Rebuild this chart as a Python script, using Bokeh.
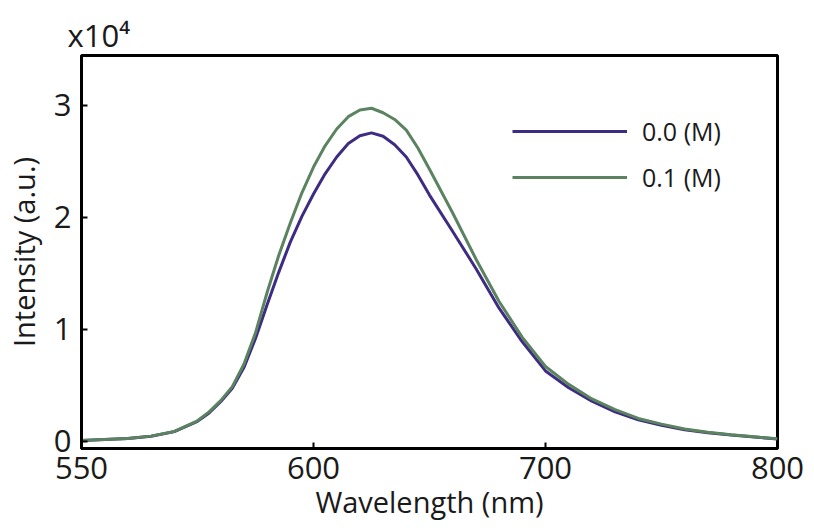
from bokeh.plotting import figure
from bokeh.models import FixedTicker, Legend, LegendItem, Range1d
from bokeh.embed import file_html
from bokeh.resources import INLINE

# ---- data ----
wavelength = [500, 510, 520, 530, 540, 550, 555, 560, 565, 570, 575, 580, 585, 590, 595,
              600, 605, 610, 615, 620, 625, 630, 635, 640, 645, 650, 660, 670, 680, 690,
              700, 710, 720, 730, 740, 750, 760, 770, 780, 790, 800]
intensity_00 = [100, 170, 270, 470, 880, 1800, 2550, 3550, 4750, 6600, 9200, 12200, 15100, 17800, 20100,
                22100, 23900, 25400, 26600, 27300, 27550, 27250, 26500, 25400, 23800, 22000, 18750, 15450, 11900, 8900,
                6300, 4800, 3600, 2650, 1930, 1450, 1050, 780, 580, 400, 220]
intensity_01 = [100, 170, 270, 480, 900, 1850, 2650, 3650, 4900, 6900, 9700, 13300, 16600, 19500, 22200,
                24500, 26400, 27900, 29000, 29600, 29750, 29350, 28750, 27800, 26200, 24300, 20400, 16300, 12500, 9300,
                6700, 5100, 3800, 2850, 2060, 1550, 1120, 830, 610, 420, 240]
series_labels = ["0.0 (M)", "0.1 (M)"]
x_ticks = [500, 600, 700, 800]
x_tick_labels = ["550", "600", "700", "800"]
y_ticks = [0, 10000, 20000, 30000]
y_tick_labels = ["0", "1", "2", "3"]

FONT = "Open Sans"
TXT = "#1a1a1a"
PURPLE = "#3d2c82"
GREEN = "#5b8360"

p = figure(width=814, height=531, output_backend="svg", toolbar_location=None,
           x_range=Range1d(500, 800), y_range=Range1d(-625, 34460),
           frame_width=696, frame_height=393,
           min_border_left=77, min_border_right=41, min_border_top=55, min_border_bottom=83)

p.background_fill_color = "white"
p.border_fill_color = "white"
p.xgrid.visible = False
p.ygrid.visible = False
p.outline_line_color = "black"
p.outline_line_width = 3
p.outline_line_alpha = 1.0

r0 = p.line(wavelength, intensity_00, line_color=PURPLE, line_width=3)
r1 = p.line(wavelength, intensity_01, line_color=GREEN, line_width=3)

# title used as the axis multiplier
p.title.text = "x10\u2074"
p.title.align = "left"
p.title.offset = -14
p.title.text_font = FONT
p.title.text_font_size = "31px"
p.title.text_font_style = "normal"
p.title.text_color = TXT
p.title.standoff = 0

for ax in (p.xaxis[0], p.yaxis[0]):
    ax.axis_line_width = 3
    ax.axis_line_color = "black"
    ax.major_tick_in = 6
    ax.major_tick_out = 0
    ax.major_tick_line_width = 2
    ax.major_tick_line_color = "black"
    ax.minor_tick_line_color = None
    ax.major_label_text_font = FONT
    ax.major_label_text_font_size = "31px"
    ax.major_label_text_color = TXT
    ax.axis_label_text_font = FONT
    ax.axis_label_text_font_size = "29px"
    ax.axis_label_text_font_style = "normal"
    ax.axis_label_text_color = TXT

p.xaxis.ticker = FixedTicker(ticks=x_ticks)
p.xaxis.major_label_overrides = {t: l for t, l in zip(x_ticks, x_tick_labels)}
p.xaxis.axis_label = "Wavelength (nm)"
p.xaxis.major_label_standoff = 8
p.xaxis.axis_label_standoff = 0

p.yaxis.ticker = FixedTicker(ticks=y_ticks)
p.yaxis.major_label_overrides = {t: l for t, l in zip(y_ticks, y_tick_labels)}
p.yaxis.axis_label = "Intensity (a.u.)"
p.yaxis.major_label_standoff = 10
p.yaxis.axis_label_standoff = 8

legend = Legend(items=[LegendItem(label=series_labels[0], renderers=[r0]),
                       LegendItem(label=series_labels[1], renderers=[r1])],
                location=(431, 254), glyph_width=115, glyph_height=20,
                label_standoff=15, spacing=12, padding=0, margin=0,
                border_line_color=None, background_fill_alpha=0,
                label_text_font=FONT, label_text_font_size="25px", label_text_color=TXT)
p.add_layout(legend)

open("out.html", "w").write(file_html(p, INLINE))
